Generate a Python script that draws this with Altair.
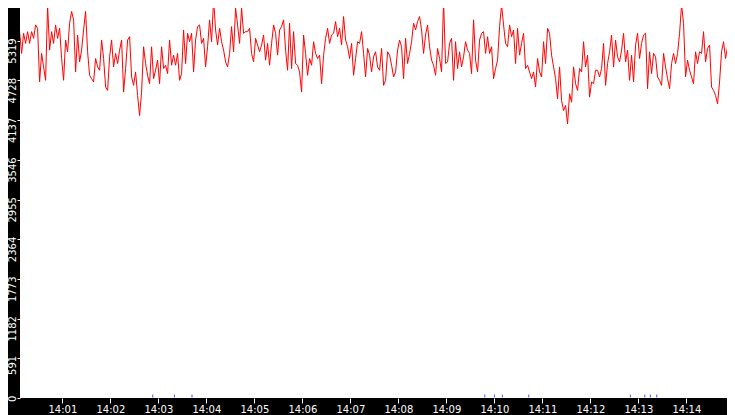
import altair as alt
import pandas as pd

seg_1400 = [5305, 5820, 5455, 5130, 5430, 5280, 5455, 5280, 5455, 5355,
            5555, 5505, 4705, 5130, 4930, 4730, 5840, 5180, 5455, 5280,
            5555, 5355, 5505, 5055, 4730, 5330, 5155, 5580, 5755, 5630,
            4855, 5405, 5005, 5180, 5480, 5755, 5155, 4805, 4755, 4705,
            5055, 4930, 4880, 5330, 5055, 4630, 4580, 5080, 5330, 4930,
            5130, 4980, 5180, 5330, 4555, 4905, 5330, 5380, 4780, 4655]
seg_1402 = [4855, 4505, 4205, 4555, 5230, 4980, 4805, 4680, 5230, 4755,
            4880, 5030, 4680, 5230, 4905, 4955, 4830, 5330, 4955, 5105,
            4955, 5130, 4730, 4830, 5480, 4980, 5430, 5305, 5430, 4855,
            5330, 5530, 5555, 5280, 5355, 4930, 5230, 5630, 5305, 5930,
            5480, 5255, 5505, 5305, 5180, 5005, 4930, 5130, 5530, 5155,
            5805, 5555, 5280, 5805, 5430, 5455, 5455, 5505, 5130, 5005]
seg_1405 = [5355, 5255, 5155, 5255, 5405, 5030, 5280, 4955, 5280, 5555,
            5430, 5105, 5480, 5530, 5630, 5180, 4880, 5580, 4905, 5455,
            4980, 4955, 4855, 4555, 5405, 5130, 4805, 5055, 4955, 5305,
            5130, 5055, 5105, 4680, 5105, 5355, 5505, 5280, 5405, 5430,
            5605, 5380, 5505, 5255, 5680, 5330, 5230, 5055, 5280, 4805,
            5055, 5305, 5280, 5455, 5130, 4780, 5205, 5105, 4855, 5080]
seg_1407 = [5155, 4930, 4880, 5205, 4655, 4730, 5155, 5105, 4955, 4780,
            4855, 5180, 5330, 5230, 4755, 5355, 4980, 5130, 5305, 5580,
            5480, 5605, 5680, 5480, 5130, 5405, 5555, 5230, 5030, 4955,
            4805, 5205, 5055, 4855, 5905, 4980, 5005, 5280, 5355, 4730,
            5305, 4905, 5155, 4930, 5080, 5305, 5180, 5130, 4830, 5630,
            5030, 4855, 5330, 5430, 5455, 5130, 5380, 5130, 5230, 4755]
seg_1410 = [4905, 5030, 5530, 5855, 5555, 5280, 5230, 5555, 5380, 5480,
            4980, 5505, 5105, 5280, 5430, 4905, 4955, 4855, 4755, 4855,
            4630, 5055, 4855, 4780, 5305, 4980, 5505, 5430, 5105, 4930,
            4755, 4455, 4930, 4430, 4280, 4355, 4080, 4530, 4405, 4930,
            4680, 4580, 4905, 4855, 5305, 4930, 5105, 4480, 4705, 4680,
            4880, 4880, 4780, 4905, 5280, 4655, 4980, 5155, 5405, 4930]
seg_1412 = [5330, 5080, 5005, 5180, 5430, 5005, 5180, 4730, 5105, 4705,
            5255, 5430, 5055, 5280, 5405, 5430, 4605, 5155, 4830, 5130,
            5080, 4780, 4730, 4655, 5130, 4930, 4755, 4605, 4980, 5130,
            4980, 5130, 5430, 5855, 5580, 4780, 5030, 4880, 4780, 4680,
            5155, 4980, 5155, 5130, 5455, 5005, 5205, 5255, 4630, 4580,
            4505, 4380, 4705, 5155, 5305, 5055, 5230, 5030, 4855, 4180,
            3680]

event_times = ["14:02:53", "14:03:20", "14:03:42", "14:09:48", "14:10:00",
               "14:10:10", "14:10:43", "14:12:50", "14:13:08", "14:13:15",
               "14:13:23"]

y_ticks = [0, 591, 1182, 1773, 2364, 2955, 3546, 4137, 4728, 5319]
x_tick_minutes = list(range(1, 15))

values = seg_1400 + seg_1402 + seg_1405 + seg_1407 + seg_1410 + seg_1412
start = pd.Timestamp("2024-01-01 14:00:01.5")
times = [(start + pd.Timedelta(seconds=2.5 * i)).strftime("%Y-%m-%dT%H:%M:%S.%f")[:-3]
         for i in range(len(values))]
df = pd.DataFrame({"time": times, "value": values})
ev = pd.DataFrame({"time": ["2024-01-01T" + t for t in event_times]})

FONT = "DejaVu Sans"

x_enc = alt.X(
    "time:T",
    scale=alt.Scale(domain=[alt.DateTime(year=2024, month=1, date=1, hours=14, minutes=0, seconds=7),
                            alt.DateTime(year=2024, month=1, date=1, hours=14, minutes=14,
                                         seconds=50, milliseconds=800)],
                    nice=False),
    axis=alt.Axis(values=[alt.DateTime(year=2024, month=1, date=1, hours=14, minutes=m)
                          for m in x_tick_minutes],
                  format="%H:%M", title=None, grid=False, domain=False,
                  tickColor="white", tickSize=5, tickWidth=1,
                  labelColor="white", labelFont=FONT, labelFontSize=10,
                  labelPadding=1, labelFlush=False, labelOverlap=False),
)
y_enc = alt.Y(
    "value:Q",
    scale=alt.Scale(domain=[0, 5807], nice=False, zero=False),
    axis=alt.Axis(values=y_ticks, format="d", title=None, grid=False, domain=False,
                  tickColor="white", tickSize=3, tickWidth=1,
                  labelColor="white", labelFont=FONT, labelFontSize=10,
                  labelAngle=270, labelAlign="right", labelBaseline="alphabetic",
                  labelPadding=2, labelOffset=-3, labelOverlap=False),
)

line = alt.Chart(df).mark_line(color="#ff0000", strokeWidth=1, clip=True).encode(x=x_enc, y=y_enc)

events = alt.Chart(ev).mark_tick(color="#0000ff", orient="vertical", size=3, thickness=1,
                                 yOffset=-2, clip=True).encode(
    x=alt.X("time:T"), y=alt.datum(0)
)

chart = alt.layer(line, events).properties(
    width=707, height=390,
    autosize=alt.AutoSizeParams(type="none"),
    padding={"left": 12, "top": 0, "right": 0, "bottom": 17},
    background="black",
).configure_view(fill="white", strokeWidth=0)

chart.save("out.html", embed_options={"renderer": "svg", "actions": False})
